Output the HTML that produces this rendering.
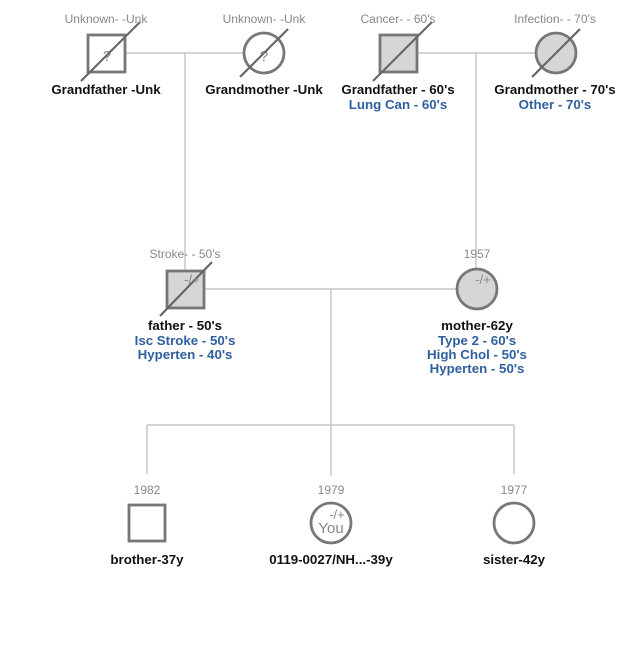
<!DOCTYPE html>
<html><head><style>
body{margin:0;background:#fff;}
svg text{font-family:"Liberation Sans",Arial,sans-serif;}
.g{fill:#888;font-size:12px;}
.n{fill:#111;font-size:13.3px;font-weight:bold;}
.b{fill:#2f5f9e;font-size:13.3px;font-weight:bold;}
</style></head><body>
<svg width="640" height="640" viewBox="0 0 640 640">
<g stroke="#bbb" stroke-width="1.2" fill="none">
<line x1="126" y1="53" x2="243" y2="53"/>
<line x1="185" y1="53" x2="185" y2="270"/>
<line x1="418" y1="53" x2="535" y2="53"/>
<line x1="476" y1="53" x2="476" y2="268"/>
<line x1="205" y1="289" x2="457" y2="289"/>
<line x1="331" y1="289" x2="331" y2="476"/>
<line x1="147" y1="425" x2="514" y2="425"/>
<line x1="147" y1="425" x2="147" y2="474"/>
<line x1="514" y1="425" x2="514" y2="474"/>
</g>
<g stroke="#777" stroke-width="2.8">
<rect x="88" y="35" width="37" height="37" fill="#fff"/>
<circle cx="264" cy="53" r="20" fill="#fff"/>
<rect x="380" y="35" width="37" height="37" fill="#d6d6d6"/>
<circle cx="556" cy="53" r="20" fill="#d6d6d6"/>
<rect x="167" y="271" width="37" height="37" fill="#d6d6d6"/>
<circle cx="477" cy="289" r="20" fill="#d6d6d6"/>
<rect x="129" y="505" width="36" height="36" fill="#fff"/>
<circle cx="331" cy="523" r="20" fill="#fff"/>
<circle cx="514" cy="523" r="20" fill="#fff"/>
</g>
<text class="g" x="107" y="61" text-anchor="middle" style="font-size:15px">?</text>
<text class="g" x="264" y="61" text-anchor="middle" style="font-size:15px">?</text>
<g stroke="#666" stroke-width="2.2">
<line x1="81" y1="81" x2="140" y2="22"/>
<line x1="240" y1="77" x2="288" y2="29"/>
<line x1="373" y1="81" x2="432" y2="22"/>
<line x1="532" y1="77" x2="580" y2="29"/>
<line x1="160" y1="316" x2="212" y2="262"/>
</g>
<text class="g" x="192" y="284" text-anchor="middle" style="font-size:13px">-/+</text>
<text class="g" x="483" y="284" text-anchor="middle" style="font-size:13px">-/+</text>
<text class="g" x="337" y="519" text-anchor="middle" style="font-size:13px">-/+</text>
<text class="g" x="331" y="533" text-anchor="middle" style="font-size:15px">You</text>
<g text-anchor="middle">
<text class="g" x="106" y="23">Unknown- -Unk</text>
<text class="g" x="264" y="23">Unknown- -Unk</text>
<text class="g" x="398" y="23">Cancer- - 60's</text>
<text class="g" x="555" y="23">Infection- - 70's</text>
<text class="n" x="106" y="94">Grandfather -Unk</text>
<text class="n" x="264" y="94">Grandmother -Unk</text>
<text class="n" x="398" y="94">Grandfather - 60's</text>
<text class="b" x="398" y="109">Lung Can - 60's</text>
<text class="n" x="555" y="94">Grandmother - 70's</text>
<text class="b" x="555" y="109">Other - 70's</text>
<text class="g" x="185" y="258">Stroke- - 50's</text>
<text class="g" x="477" y="258">1957</text>
<text class="n" x="185" y="330">father - 50's</text>
<text class="b" x="185" y="345">Isc Stroke - 50's</text>
<text class="b" x="185" y="359">Hyperten - 40's</text>
<text class="n" x="477" y="330">mother-62y</text>
<text class="b" x="477" y="345">Type 2 - 60's</text>
<text class="b" x="477" y="359">High Chol - 50's</text>
<text class="b" x="477" y="373">Hyperten - 50's</text>
<text class="g" x="147" y="494">1982</text>
<text class="g" x="331" y="494">1979</text>
<text class="g" x="514" y="494">1977</text>
<text class="n" x="147" y="564">brother-37y</text>
<text class="n" x="331" y="564">0119-0027/NH...-39y</text>
<text class="n" x="514" y="564">sister-42y</text>
</g>
</svg>
</body></html>
